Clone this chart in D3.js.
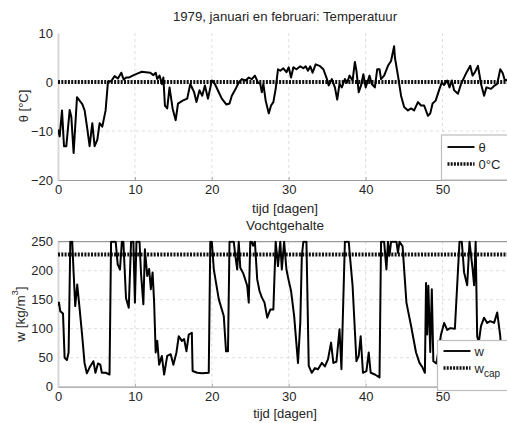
<!DOCTYPE html>
<html><head><meta charset="utf-8">
<script src="https://cdn.jsdelivr.net/npm/d3@7/dist/d3.min.js"></script>
<style>
body{margin:0;background:#fff;}
svg{display:block;font-family:"Liberation Sans",Arial,sans-serif;}
</style></head>
<body><svg id="c" width="507" height="423"></svg>
<script>
// ---- data ----
const tempDays = [0,0.22,0.52,0.78,1.08,1.52,1.73,2.03,2.47,2.81,3.16,3.46,3.77,4.11,4.46,4.76,5.11,5.41,5.76,6.19,6.49,6.93,7.36,7.79,8.23,8.53,8.87,9.2,9.7,10.3,10.9,11.4,12.0,12.4,12.7,12.9,13.2,13.5,13.7,13.9,14.2,14.5,14.9,15.3,15.6,16.2,16.8,17.2,17.7,18.0,18.4,18.75,19.1,19.5,20.0,20.4,20.9,21.3,21.9,22.3,22.6,23.1,23.5,23.9,24.4,24.8,25.2,25.6,26.0,26.3,26.5,26.7,27.0,27.4,27.7,28.0,28.3,28.6,28.9,29.3,29.7,30.0,30.3,30.6,31.0,31.5,31.9,32.2,32.5,32.8,33.1,33.5,34.0,34.5,34.9,35.2,35.6,36.0,36.3,36.6,36.9,37.3,37.6,37.9,38.3,38.6,38.8,39.1,39.4,39.7,40.0,40.3,40.5,40.8,41.2,41.5,41.8,42.0,42.4,42.9,43.3,43.7,43.8,44.2,44.6,45.0,45.5,45.9,46.3,46.8,47.2,47.6,48.1,48.4,48.7,49.1,49.6,49.9,50.2,50.6,50.9,51.2,51.5,52.0,52.4,52.7,53.1,53.6,53.9,54.2,54.6,55.0,55.4,55.7,56.3,56.7,57.1,57.5,57.8,58.1,58.5];
const tempValues = [-9.7,-11.1,-5.8,-13.1,-13.1,-5.7,-7.1,-14.5,-3.1,-3.8,-4.5,-5.8,-9.1,-13.1,-8.4,-13.1,-11.8,-8.4,-9.1,-5.8,0,0.2,1.2,0.7,1.9,0.5,0.9,0.9,1.3,1.7,2.1,2.0,1.9,1.4,1.9,0.6,1.3,-0.4,0.9,-4.8,-5.4,-1.1,-5.4,-7.8,-4.4,-3.8,-3.4,-0.4,-2.1,-4.1,-1.7,-2.8,-0.7,-3.4,0.3,-0.4,-2.1,-3.4,-4.6,-4.4,-2.8,-1.4,-0.1,0.6,0.3,0.9,0.6,1.3,-0.1,-0.4,-2.1,-0.4,-3.8,-6.4,-4.8,-4.1,-1.4,2.6,2.3,2.8,2.0,3.0,0.9,3.0,2.6,3.2,2.8,3.2,2.3,3.2,1.9,3.6,3.3,2.6,0.9,-0.7,0.6,-1.1,-3.6,-0.4,-1.1,0.6,-0.1,1.3,0.3,4.1,2.3,-2.1,-0.7,1.6,-1.1,0.3,1.3,-0.4,-1.1,2.6,2.6,0.6,1.3,3.3,4.3,7.3,5.0,1.3,-2.8,-5.1,-5.8,-5.4,-5.8,-4.1,-4.8,-4.8,-6.9,-6.4,-4.4,-3.8,-1.4,-0.1,-0.6,0.3,-1.1,0.3,-1.7,-2.4,-0.4,0.6,1.9,3.3,1.3,2.0,3.3,-0.4,-2.8,-1.1,-1.4,-0.8,-0.4,2.6,1.9,0.3,0.5];
const moistDays = [0,0.13,0.3,0.65,0.86,1.16,1.38,1.6,1.85,2.03,2.24,2.5,2.8,3.15,3.45,3.75,4.1,4.6,4.87,5.2,5.5,5.7,6.2,6.7,6.9,7.3,7.5,7.76,8.06,8.3,8.5,8.84,9.2,9.5,9.8,10.0,10.2,10.6,10.8,11.1,11.3,11.6,11.85,12.07,12.3,12.5,12.7,12.9,13.15,13.5,13.8,14.2,14.65,15.0,15.4,15.7,16.1,16.4,16.7,17.0,17.4,17.5,18.1,18.75,19.6,19.8,20.0,20.26,20.9,21.55,21.85,22.1,22.3,22.85,23.06,23.3,23.5,23.7,24.1,24.6,24.8,25.0,25.2,25.35,25.6,25.9,26.2,26.5,26.85,27.2,27.6,28.0,28.3,28.6,28.9,29.1,29.4,29.7,29.96,30.3,30.7,31.2,31.5,31.7,31.9,32.3,32.6,33.0,33.4,33.8,34.3,34.7,35.1,35.5,35.8,36.2,36.6,36.85,37.3,37.8,37.95,38.3,38.8,39.1,39.35,39.65,40.1,40.4,40.65,41.2,41.8,42.0,42.4,42.7,42.9,43.1,43.3,43.6,44.0,44.2,44.4,44.8,45.3,45.9,46.55,47.0,47.4,47.7,47.85,48.0,48.15,48.4,48.6,48.8,49.2,49.8,50.2,50.6,51.0,51.6,52.2,52.5,52.8,53.2,53.5,53.9,54.1,54.3,54.5,54.7,55.0,55.4,55.8,56.2,56.7,57.1,57.5,57.7,58.0];
const moistValues = [140,145,130,126,50,46,59,250,250,197,139,176,136,87,41,23,33,44,24,40,38,24,24,21,250,250,250,211,202,250,250,153,136,250,250,145,250,250,194,142,237,191,203,168,197,145,59,79,38,53,21,53,56,38,59,87,79,82,61,90,93,27,24,23,24,250,250,202,151,122,61,61,250,250,225,202,250,205,195,174,145,250,250,243,250,185,165,154,145,119,133,133,250,208,250,202,250,202,185,165,122,41,110,225,250,250,36,24,32,30,41,35,47,76,41,43,99,30,250,250,226,174,44,53,87,24,27,59,24,21,16,250,250,202,250,226,250,250,250,231,250,242,145,105,59,41,33,24,179,90,174,60,168,44,40,90,110,98,101,100,250,250,197,175,250,203,175,250,87,76,105,119,110,113,110,128,87,40];
const wcap = 228;
const tempTicksY = [-20,-10,0,10];
const moistTicksY = [0,50,100,150,200,250];
const dayTicks = [0,10,20,30,40,50];

const svg = d3.select("#c");
const font = "Liberation Sans, Arial, sans-serif";
const textCol = "#262626";

const x = d3.scaleLinear().domain([0,59]).range([58,511.8]);
const yT = d3.scaleLinear().domain([-20,10]).range([180,33]);
const yW = d3.scaleLinear().domain([0,250]).range([386.7,241.7]);

svg.append("clipPath").attr("id","clipT").append("rect").attr("x",58).attr("y",33).attr("width",460).attr("height",147);
svg.append("clipPath").attr("id","clipW").append("rect").attr("x",58).attr("y",240.5).attr("width",460).attr("height",147);

function panel(y, yticks, drawTop){
  const g = svg.append("g");
  g.selectAll("line.gx").data(dayTicks.filter(d=>d>0)).join("line")
    .attr("x1",d=>x(d)).attr("x2",d=>x(d)).attr("y1",y.range()[1]).attr("y2",y.range()[0])
    .attr("stroke","#d6d6d6").attr("stroke-width",0.8).attr("stroke-dasharray","3,3");
  g.selectAll("line.gy").data(yticks.slice(1,-1)).join("line")
    .attr("x1",58).attr("x2",507).attr("y1",d=>y(d)).attr("y2",d=>y(d))
    .attr("stroke","#d6d6d6").attr("stroke-width",0.8).attr("stroke-dasharray","3,3");
  const xa = g.append("g").attr("transform",`translate(0,${y.range()[0]})`)
    .call(d3.axisBottom(x).tickValues(dayTicks).tickSize(-3).tickPadding(5).tickFormat(d3.format("d")));
  xa.select(".domain").attr("stroke","#9a9a9a").attr("stroke-width",1.2);
  xa.selectAll(".tick line").attr("stroke","#aaa");
  xa.selectAll("text").attr("font-size",13).attr("fill",textCol).attr("font-family",font);
  const ya = g.append("g").attr("transform","translate(58,0)")
    .call(d3.axisLeft(y).tickValues(yticks).tickSize(0).tickPadding(5).tickFormat(d3.format("d")));
  ya.select(".domain").attr("stroke","#d8d8d8").attr("stroke-width",2);
  ya.selectAll("text").attr("font-size",13).attr("fill",textCol).attr("font-family",font);
  if(drawTop){
    g.append("line").attr("x1",58).attr("x2",507).attr("y1",y.range()[1]).attr("y2",y.range()[1])
      .attr("stroke","#9a9a9a").attr("stroke-width",1.2);
  }
  return g;
}

// ---- top panel ----
const gT = panel(yT, tempTicksY, false);
gT.append("line").attr("x1",x(0)).attr("x2",x(59)).attr("y1",yT(0)).attr("y2",yT(0))
  .attr("stroke","#111").attr("stroke-width",4).attr("stroke-dasharray","2,1.3");
gT.append("path").datum(d3.zip(tempDays,tempValues)).attr("clip-path","url(#clipT)")
  .attr("d",d3.line().x(d=>x(d[0])).y(d=>yT(d[1])))
  .attr("fill","none").attr("stroke","#000").attr("stroke-width",2).attr("stroke-linejoin","round");

// ---- bottom panel ----
const gW = panel(yW, moistTicksY, true);
gW.append("line").attr("x1",x(0)).attr("x2",x(59)).attr("y1",yW(wcap)).attr("y2",yW(wcap))
  .attr("stroke","#111").attr("stroke-width",4).attr("stroke-dasharray","2,1.3");
gW.append("path").datum(d3.zip(moistDays,moistValues)).attr("clip-path","url(#clipW)")
  .attr("d",d3.line().x(d=>x(d[0])).y(d=>yW(d[1])))
  .attr("fill","none").attr("stroke","#000").attr("stroke-width",2).attr("stroke-linejoin","round");

// ---- titles & labels ----
function txt(xx,yy,s,size){
  return svg.append("text").attr("x",xx).attr("y",yy).attr("text-anchor","middle")
    .attr("font-size",size).attr("fill",textCol).attr("font-family",font)
    .attr("dominant-baseline","central").text(s);
}
txt(285,16.5,"1979, januari en februari: Temperatuur",13.2);
txt(285,208,"tijd [dagen]",13.5);
txt(285,225,"Vochtgehalte",13.5);
txt(285,413.5,"tijd [dagen]",13);
svg.append("text").attr("transform","translate(23,106) rotate(-90)").attr("text-anchor","middle")
  .attr("dominant-baseline","central").attr("font-size",13).attr("fill",textCol).attr("font-family",font).text("θ [°C]");
const wl = svg.append("text").attr("transform","translate(20,314) rotate(-90)").attr("text-anchor","middle")
  .attr("dominant-baseline","central").attr("font-size",13.5).attr("fill",textCol).attr("font-family",font);
wl.append("tspan").text("w [kg/m");
wl.append("tspan").attr("font-size",9).attr("dy",-5).text("3");
wl.append("tspan").attr("dy",5).text("]");

// ---- legends ----
function legend(x0,y0,h,entries){
  const g = svg.append("g");
  g.append("rect").attr("x",x0).attr("y",y0).attr("width",80).attr("height",h)
    .attr("fill","#fff").attr("stroke","#bdbdbd").attr("stroke-width",1.2);
  entries.forEach(e=>{
    g.append("line").attr("x1",x0+6).attr("x2",x0+33).attr("y1",e.y).attr("y2",e.y)
      .attr("stroke","#111").attr("stroke-width",e.dotted?3.5:2).attr("stroke-dasharray",e.dotted?"2,1.2":null);
    const t = g.append("text").attr("x",x0+37).attr("y",e.y).attr("dominant-baseline","central")
      .attr("font-size",13).attr("fill",textCol).attr("font-family",font);
    t.append("tspan").text(e.label);
    if(e.sub) t.append("tspan").attr("font-size",10).attr("dy",5).text(e.sub);
  });
}
legend(441.5,135,45,[{y:147,label:"θ"},{y:164,label:"0°C",dotted:true}]);
legend(437.5,340.5,50,[{y:351,label:"w"},{y:368,label:"w",sub:"cap",dotted:true}]);
</script></body></html>
